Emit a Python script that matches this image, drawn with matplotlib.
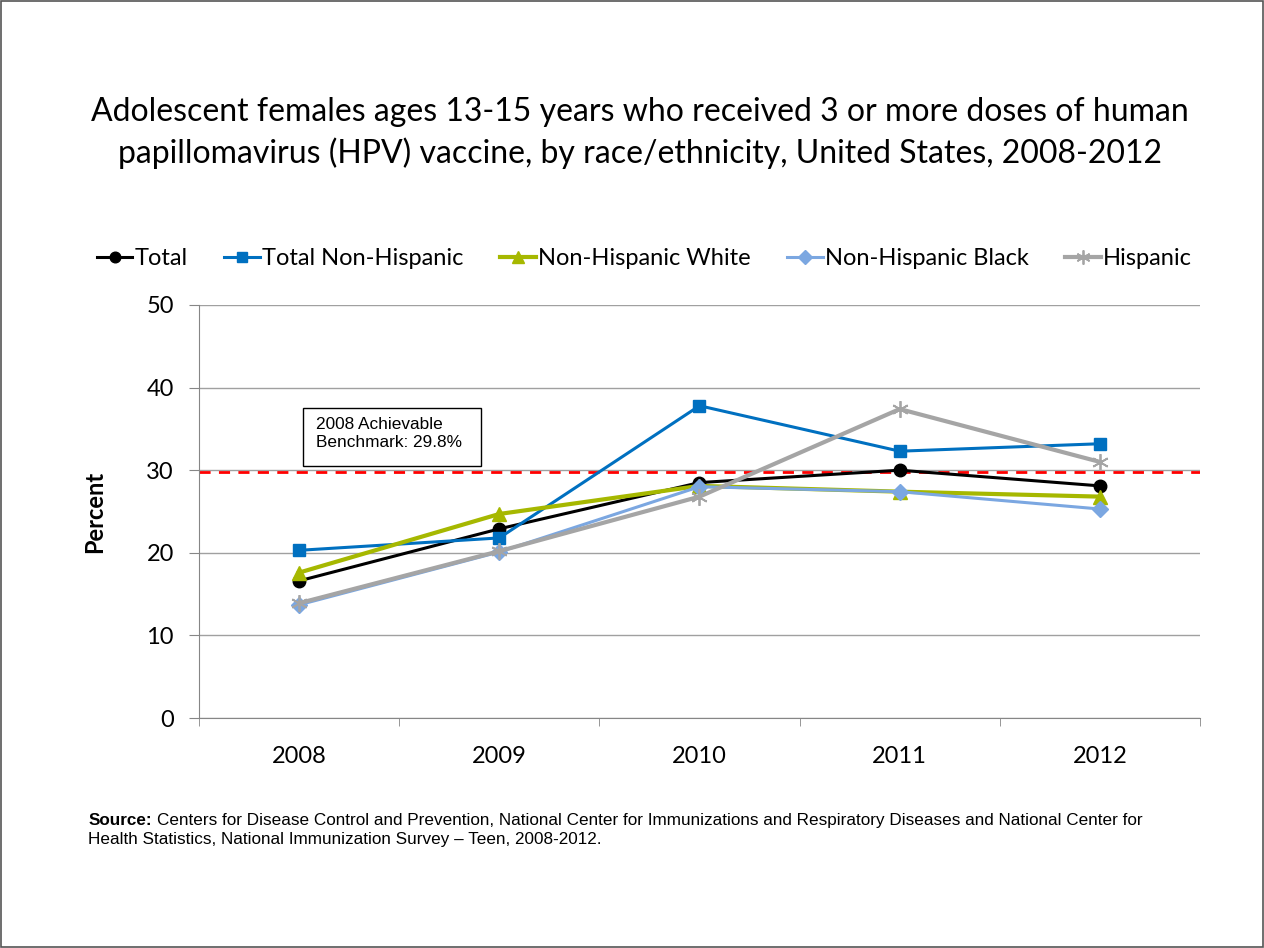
import matplotlib.pyplot as plt
import matplotlib.patches as mpatches
import numpy as np

years = ["2008", "2009", "2010", "2011", "2012"]
total = [16.6, 22.9, 28.5, 30.0, 28.1]
total_non_hispanic = [20.3, 21.8, 37.8, 32.3, 33.2]
nh_white = [17.6, 24.7, 28.1, 27.4, 26.8]
nh_black = [13.7, 20.1, 28.0, 27.4, 25.3]
hispanic = [13.9, 20.2, 26.8, 37.4, 31.0]
benchmark = 29.8

series = [
    ("Total", total, "#000000", "o", 2.2, 9),
    ("Total Non-Hispanic", total_non_hispanic, "#0070C0", "s", 2.2, 9),
    ("Non-Hispanic White", nh_white, "#A6B800", "^", 3.0, 10),
    ("Non-Hispanic Black", nh_black, "#7BA7E1", "D", 2.2, 8),
    ("Hispanic", hispanic, "#A5A5A5", (6, 2, 0), 3.0, 12),
]

font = ["Lato", "DejaVu Sans"]
arial = ["Liberation Sans", "DejaVu Sans"]
fig = plt.figure(figsize=(12.64, 9.48), dpi=100)
ax = fig.add_axes([0.1574, 0.2426, 0.792, 0.4357])

x = np.arange(len(years))
for name, vals, color, marker, lw, ms in series:
    ax.plot(x, vals, color=color, lw=lw, marker=marker, markersize=ms,
            markeredgewidth=1.3 if name == "Hispanic" else 1, label=name,
            markerfacecolor=color, markeredgecolor=color)

ax.axhline(benchmark, color="red", lw=2, ls=(0, (4, 3)), zorder=1)

ax.set_xlim(-0.5, 4.5)
ax.set_ylim(0, 50)
ax.set_yticks(range(0, 51, 10))
ax.set_xticks(x)
ax.set_xticklabels(years)
ax.set_xticks(np.arange(-0.5, 5, 1), minor=True)
ax.tick_params(axis="x", which="major", length=0, pad=20)
ax.tick_params(axis="x", which="minor", length=6, color="#868686")
ax.tick_params(axis="y", length=7, color="#868686", pad=11)
for lab in ax.get_xticklabels() + ax.get_yticklabels():
    lab.set_family(font)
    lab.set_fontsize(17)
ax.yaxis.grid(True, color="#A0A0A0", lw=1)
ax.set_axisbelow(True)
for s in ["top", "right"]:
    ax.spines[s].set_visible(False)
for s in ["left", "bottom"]:
    ax.spines[s].set_color("#868686")
ax.set_ylabel("Percent", fontsize=17, fontweight="bold", family=font, labelpad=29)

# benchmark note box
ax.add_patch(mpatches.Rectangle((0.02, 30.5), 0.89, 7.0, fc="white", ec="black",
                                lw=1, zorder=3))
ax.text(0.084, 36.4, "2008 Achievable\nBenchmark: 29.8%", fontsize=12.4,
        family=arial, va="top", ha="left", linespacing=1.25, zorder=4)

ax.legend(loc="lower center", bbox_to_anchor=(0.445, 1.035), ncol=5, frameon=False,
          prop={"family": font, "size": 17}, handlelength=1.5, handletextpad=0.1,
          columnspacing=1.55, markerscale=0.85)

fig.text(0.506, 0.86, "Adolescent females ages 13-15 years who received 3 or more doses of human\n"
         "papillomavirus (HPV) vaccine, by race/ethnicity, United States, 2008-2012",
         ha="center", va="center", fontsize=23, family=font, linespacing=1.4)

src = fig.text(0.0697, 0.127, "Source:", ha="left", va="bottom", fontsize=12.3,
               family=arial, fontweight="bold")
ax.annotate("Centers for Disease Control and Prevention, National Center for "
            "Immunizations and Respiratory Diseases and National Center for",
            xy=(1, 0), xycoords=src, xytext=(3.5, 0), textcoords="offset points",
            ha="left", va="bottom", fontsize=12.3, family=arial,
            annotation_clip=False)
fig.text(0.0697, 0.107, "Health Statistics, National Immunization Survey \u2013 Teen, 2008-2012.",
         ha="left", va="bottom", fontsize=12.3, family=arial)

fig.patches.append(mpatches.Rectangle((0.001, 0.001), 0.998, 0.998, transform=fig.transFigure,
                                      fill=False, ec="#555555", lw=1.2))

fig.savefig("out.png", dpi=100)
